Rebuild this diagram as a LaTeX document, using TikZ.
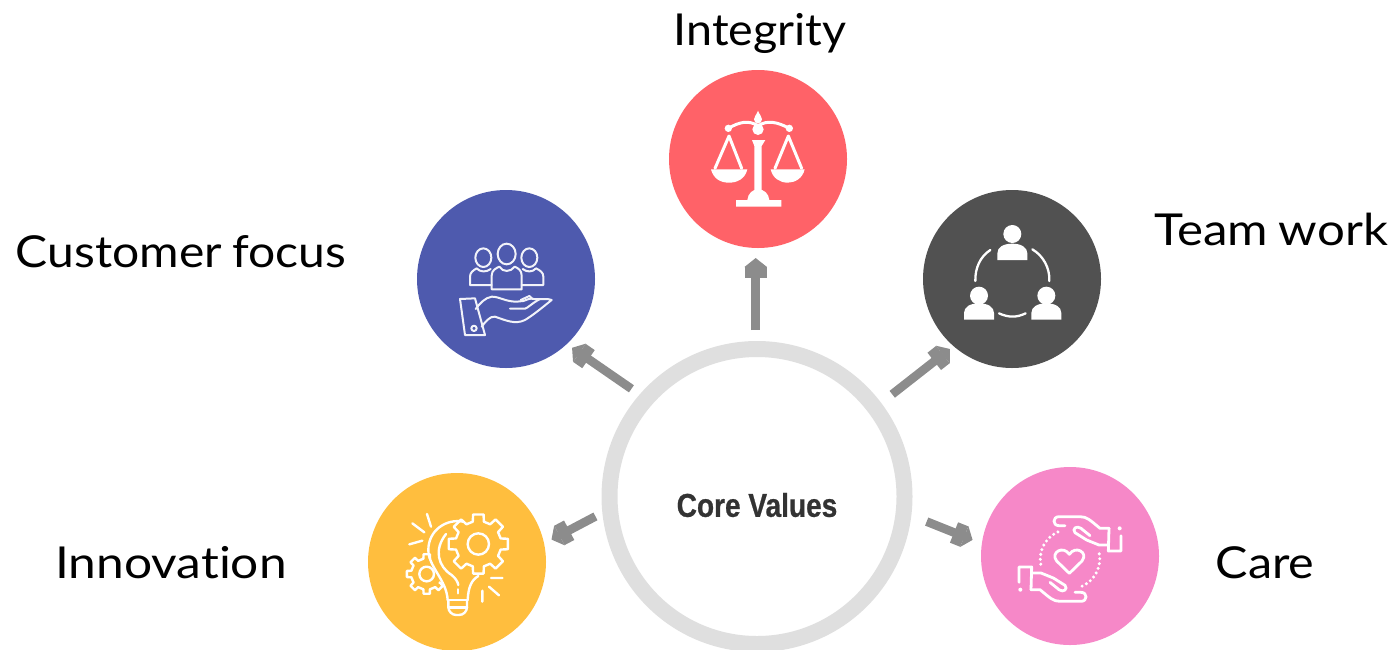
\documentclass[tikz,border=0pt]{standalone}
\usepackage{fontspec}
\usepackage{graphicx}
\usetikzlibrary{arrows.meta}
\setmainfont{Lato}
\newfontfamily\labelfont[FakeStretch=1.06,Ligatures=NoCommon,WordSpace=0.85]{Lato}
\newfontfamily\corefont[FakeStretch=0.85,FakeBold=0.7]{Liberation Sans Bold}
\definecolor{cred}{HTML}{FF6268}
\definecolor{cblue}{HTML}{4E5AAE}
\definecolor{cdark}{HTML}{515151}
\definecolor{cyellow}{HTML}{FFBE3E}
\definecolor{cpink}{HTML}{F688C8}
\definecolor{carrow}{HTML}{8C8C8C}
\definecolor{cring}{HTML}{DFDFDF}
\tikzset{
  disc/.style={circle,fill=#1,minimum size=178,inner sep=0,outer sep=0},
  hubnode/.style={circle,draw=cring,line width=16,fill=white,minimum size=295,inner sep=0},
  spoke/.style={draw=carrow,line width=8.7,-{Rectangle[length=11,width=22,sep=0pt]Triangle[length=9,width=22]}},
  lab/.style={font=\labelfont\fontsize{44}{44}\selectfont,text=black,inner sep=0,anchor=base},
  zoomed/.style={x=0.33333pt,y=-0.33333pt},
  iconline/.style={draw=white,line width=#1,line cap=round,line join=round},
  iconfill/.style={fill=white,draw=none}
}
\begin{document}
\begin{tikzpicture}[x=1pt,y=-1pt]
\useasboundingbox (0,0) rectangle (1396,649);
\begin{scope}
\clip (0,0) rectangle (1396,649);
\node[hubnode] (hub) at (757,496.5) {};
\node[disc=cred] (integrity) at (758,159) {};
\node[disc=cblue] (customer) at (506,279) {};
\node[disc=cdark] (team) at (1012,279) {};
\node[disc=cyellow] (innovation) at (457,562) {};
\node[disc=cpink] (care) at (1070,556) {};
\end{scope}
\node[font=\corefont\fontsize{33}{33}\selectfont,text=black!80,inner sep=0] (core) at (757,505) {Core Values};

\draw[spoke,shorten <=11,shorten >=10] ([xshift=-1.3]hub.90) -- ([xshift=-2.3]integrity.270);
\draw[spoke,shorten <=10,shorten >=6.5] (hub.139.8) -- (customer.313);
\draw[spoke,shorten <=14,shorten >=4.6] (hub.37.1) -- (team.229);
\draw[spoke,shorten <=7.8,shorten >=8.4] (hub.186.1) -- (innovation.12.2);
\draw[spoke,shorten <=16.5,shorten >=10] (hub.353.5) -- (care.172.8);

\node[lab] (l1) at (760,45) {Integrity};
\node[lab] (l2) at (181,267) {\scalebox{1.03}[1]{Customer focus}};
\node[lab] (l3) at (1271,245) {\scalebox{1.055}[1]{Team work}};
\node[lab] (l4) at (171,578) {\scalebox{1.065}[1]{Innovation}};
\node[lab] (l5) at (1265,578) {\scalebox{1.04}[1]{Care}};

% scales
\begin{scope}[shift={(660,60)},zoomed]
  \fill[white] (294,152) .. controls (298,165) and (306,168) .. (306,178) .. controls (306,186) and (300,190) .. (294,190) .. controls (288,190) and (282,186) .. (282,178) .. controls (282,168) and (290,165) .. (294,152) -- cycle;
  \fill[white] (205,205) circle[radius=11] (388,205) circle[radius=11] (294,208) circle[radius=17];
  \draw[iconline=3pt] (205,205) .. controls (240,185) and (265,180) .. (294,197) .. controls (323,180) and (350,185) .. (388,205);
  \fill[white] (276,240) -- (316,240) -- (305,258) -- (305,395) -- (283,395) -- (283,258) -- cycle;
  \fill[white] (262,420) .. controls (264,400) and (278,388) .. (294,388) .. controls (312,388) and (326,400) .. (328,420) -- (364,420) -- (364,440) -- (228,440) -- (228,420) -- cycle;
  \fill[white] (153,328) -- (262,328) .. controls (255,358) and (230,368) .. (207,368) .. controls (180,368) and (160,355) .. (153,328) -- cycle;
  \fill[white] (332,328) -- (434,328) .. controls (428,355) and (405,368) .. (383,368) .. controls (360,368) and (338,355) .. (332,328) -- cycle;
  \draw[iconline=3pt] (165,325) -- (207,228) -- (245,325) (345,325) -- (385,228) -- (425,325);
\end{scope}

% customers and hand
\begin{scope}[shift={(410,185)},zoomed,every path/.style={draw=white!92!cblue,line width=2pt,line join=round,line cap=round}]
  \draw (220,218) ellipse[x radius=24,y radius=28];
  \draw (290,207) ellipse[x radius=27,y radius=31];
  \draw (358,218) ellipse[x radius=24,y radius=28];
  \draw (245,313) -- (245,272) .. controls (245,255) and (258,250) .. (268,245) .. controls (278,262) and (302,262) .. (314,245) .. controls (325,250) and (335,256) .. (335,272) -- (335,313) -- cycle;
  \draw (245,300) -- (180,300) -- (180,275) .. controls (180,262) and (190,256) .. (200,250) .. controls (210,262) and (230,262) .. (242,252);
  \draw (335,300) -- (400,300) -- (400,275) .. controls (400,262) and (390,256) .. (378,250) .. controls (368,262) and (350,262) .. (338,252);
  \draw (150,342) -- (195,340) -- (225,450) -- (165,450) -- cycle;
  \draw (192,430) circle[radius=8];
  \draw (197,372) .. controls (210,355) and (225,338) .. (245,335) .. controls (270,335) and (285,350) .. (320,350) -- (340,348) .. controls (350,345) and (360,338) .. (372,342) .. controls (390,345) and (410,338) .. (425,345) .. controls (400,365) and (370,390) .. (345,405) .. controls (315,420) and (285,405) .. (255,395) .. controls (240,392) and (225,412) .. (215,425);
  \draw (300,371) -- (345,371) .. controls (355,368) and (365,355) .. (390,342);
  \draw (332,345) -- (358,333) -- (368,342);
\end{scope}

% team
\begin{scope}[shift={(915,185)},zoomed]
  \fill[white] (292,147) circle[radius=27] (192,332) circle[radius=27] (394,332) circle[radius=27];
  \foreach \dx/\dy in {0/0,-100/179,102/179}{
    \fill[white,shift={(\dx,\dy)}] (247,225) -- (247,205) .. controls (247,187) and (265,176) .. (292,176) .. controls (319,176) and (337,187) .. (337,205) -- (337,225) -- cycle;
  }
  \draw[iconline=2.3pt] (226,195) .. controls (195,215) and (180,250) .. (181,288);
  \draw[iconline=2.3pt] (352,193) .. controls (385,212) and (405,250) .. (403,288);
  \draw[iconline=2.3pt] (252,385) .. controls (280,398) and (305,398) .. (332,385);
\end{scope}

% innovation
\begin{scope}[shift={(365,470)},zoomed]
  \draw[iconline=2.4pt,shift={(340,222)}] (-10:90)
    \foreach \a in {0,45,...,315}{ -- (\a-10:90) -- (\a+10:90) -- (\a+14:69) -- (\a+31:69) } -- cycle;
  \draw[iconline=2.4pt] (340,222) circle[radius=32];
  \draw[iconline=2.4pt,shift={(185,312)}] (35:47)
    \foreach \a in {45,90,135,180,225,270}{ -- (\a-12:47) -- (\a-9:60) -- (\a+9:60) -- (\a+12:47) };
  \draw[iconline=2.4pt] (185,312) circle[radius=22];
  \draw[iconline=2.4pt] (295,155) .. controls (245,145) and (190,180) .. (190,240) .. controls (190,290) and (245,330) .. (248,390);
  \draw[iconline=2.4pt] (340,318) .. controls (320,330) and (310,350) .. (308,390);
  \draw[iconline=2.4pt] (243,192) .. controls (205,240) and (220,290) .. (260,315) .. controls (272,325) and (278,335) .. (280,345);
  \draw[iconline=2.4pt] (279,358) -- (279,370);
  \draw[iconline=2.4pt,rounded corners=8] (250,390) -- (250,435) -- (306,435) -- (306,390);
  \draw[iconline=2.4pt] (248,390) -- (308,390) (250,412) -- (306,412);
  \draw[iconline=2.4pt] (186,132) -- (198,170) (142,160) -- (178,187) (133,223) -- (172,212) (378,324) -- (412,324) (372,350) -- (402,376) (352,362) -- (352,395);
\end{scope}

% care
\begin{scope}[shift={(975,465)},zoomed]
  \foreach \r in {0,180}{
    \begin{scope}[rotate around={\r:(285,282)}]
      \draw[iconline=2.8pt] (270,182) -- (252,182) .. controls (232,182) and (232,155) .. (252,155) -- (315,155) .. controls (335,155) and (345,165) .. (375,190) -- (402,190);
      \fill[white] (434,190) circle[radius=6];
      \draw[iconline=2.8pt] (402,190) -- (400,258) -- (438,258) -- (438,212);
      \draw[iconline=2.8pt] (400,240) -- (372,240) -- (335,225) -- (300,203) .. controls (290,192) and (305,180) .. (318,190) -- (345,212);
      \foreach \t in {170,179.5,...,255}{
        \fill[white] (285,282) ++(\t:89) circle[radius=5];
      }
    \end{scope}
  }
  \draw[iconline=2.8pt] (283,325) -- (245,288) .. controls (225,262) and (265,240) .. (283,268) .. controls (301,240) and (341,262) .. (321,288) -- cycle;
\end{scope}
\end{tikzpicture}
\end{document}
